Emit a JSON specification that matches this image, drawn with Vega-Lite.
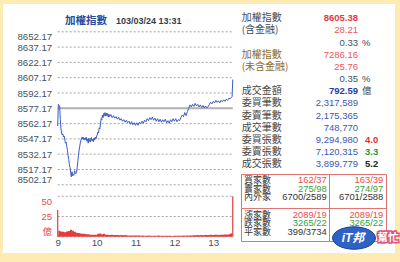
{
  "$schema": "https://vega.github.io/schema/vega-lite/v6.json",
  "width": 392,
  "height": 249,
  "autosize": "none",
  "padding": {"left": 3, "top": 4, "right": 5, "bottom": 9},
  "background": "#fdebb2",
  "config": {
    "view": {"fill": "#ffffff", "stroke": null},
    "axis": {"labelFont": "Liberation Sans", "labelFontSize": 9.6, "labelColor": "#44525e", "ticks": false, "tickSize": 0, "domain": false, "labelPadding": 3, "labelOverlap": false}
  },
  "layer": [
    {
      "layer": [
        {
          "data": {"values": [{"price": 8502.17}, {"price": 8517.17}, {"price": 8532.17}, {"price": 8547.17}, {"price": 8562.17}, {"price": 8592.17}, {"price": 8607.17}, {"price": 8622.17}, {"price": 8637.17}, {"price": 8652.17}]},
          "mark": {"type": "rule", "color": "#a4a4a4", "strokeWidth": 1, "strokeDash": [2, 2]},
          "encoding": {
            "y": {"field": "price", "type": "quantitative"},
            "x": {"datum": {"year": 1900, "month": 1, "date": 1, "hours": 9, "minutes": 0}, "type": "temporal"},
            "x2": {"datum": {"year": 1900, "month": 1, "date": 1, "hours": 13, "minutes": 30}}
          }
        },
        {
          "data": {"format": {"parse": {"time": "date:'%H:%M'"}}, "values": [{"time": "09:00"}, {"time": "10:00"}, {"time": "11:00"}, {"time": "12:00"}, {"time": "13:00"}]},
          "mark": {"type": "rule", "color": "#a4a4a4", "strokeWidth": 1, "strokeDash": [2, 2]},
          "encoding": {
            "x": {"field": "time", "type": "temporal"},
            "y": {"datum": 8652.17, "type": "quantitative"},
            "y2": {"datum": 8502.17}
          }
        },
        {
          "data": {"values": [{"price": 8577.17}]},
          "mark": {"type": "rule", "color": "#b0b0b0", "strokeWidth": 2},
          "encoding": {
            "y": {"field": "price", "type": "quantitative"},
            "x": {"datum": {"year": 1900, "month": 1, "date": 1, "hours": 9, "minutes": 0}, "type": "temporal"},
            "x2": {"datum": {"year": 1900, "month": 1, "date": 1, "hours": 13, "minutes": 30}}
          }
        },
        {
          "data": {
            "format": {"parse": {"time": "date:'%H:%M'"}},
            "values": [
              {"time":"09:00","price":8559.8},{"time":"09:01","price":8581.0},{"time":"09:02","price":8580.2},{"time":"09:03","price":8579.5},{"time":"09:04","price":8566},{"time":"09:05","price":8557},{"time":"09:06","price":8553},{"time":"09:07","price":8551},{"time":"09:08","price":8552},{"time":"09:09","price":8549},{"time":"09:10","price":8550},{"time":"09:11","price":8546},{"time":"09:12","price":8543},{"time":"09:13","price":8544},{"time":"09:14","price":8540},{"time":"09:15","price":8536},{"time":"09:16","price":8531},{"time":"09:17","price":8527},{"time":"09:18","price":8522},{"time":"09:19","price":8519},{"time":"09:20","price":8514},{"time":"09:21","price":8510},{"time":"09:22","price":8515},{"time":"09:23","price":8511},{"time":"09:24","price":8512},{"time":"09:25","price":8511.5},{"time":"09:26","price":8516},{"time":"09:27","price":8514},{"time":"09:28","price":8513},{"time":"09:29","price":8514},{"time":"09:30","price":8519},{"time":"09:31","price":8525},{"time":"09:32","price":8531},{"time":"09:33","price":8536},{"time":"09:34","price":8540},{"time":"09:35","price":8544},{"time":"09:36","price":8546},{"time":"09:37","price":8548.5},{"time":"09:38","price":8547},{"time":"09:39","price":8549},{"time":"09:40","price":8546.5},{"time":"09:41","price":8548},{"time":"09:42","price":8546},{"time":"09:44","price":8549},{"time":"09:45","price":8545},{"time":"09:46","price":8547},{"time":"09:47","price":8543},{"time":"09:48","price":8548},{"time":"09:49","price":8546},{"time":"09:50","price":8544},{"time":"09:51","price":8547},{"time":"09:52","price":8548.5},{"time":"09:53","price":8545},{"time":"09:54","price":8547},{"time":"09:55","price":8544.5},{"time":"09:56","price":8548},{"time":"09:57","price":8546},{"time":"09:58","price":8549},{"time":"09:59","price":8547},
              {"time":"10:00","price":8550},{"time":"10:01","price":8551},{"time":"10:02","price":8554},{"time":"10:03","price":8553},{"time":"10:04","price":8558},{"time":"10:05","price":8557},{"time":"10:06","price":8562},{"time":"10:07","price":8567},{"time":"10:08","price":8566},{"time":"10:09","price":8570.5},{"time":"10:10","price":8568},{"time":"10:11","price":8572},{"time":"10:12","price":8570},{"time":"10:13","price":8573},{"time":"10:14","price":8569.5},{"time":"10:15","price":8572.5},{"time":"10:16","price":8570},{"time":"10:17","price":8572},{"time":"10:18","price":8568.5},{"time":"10:19","price":8571.5},{"time":"10:20","price":8569},{"time":"10:22","price":8571},{"time":"10:24","price":8568},{"time":"10:26","price":8570},{"time":"10:28","price":8567.5},{"time":"10:30","price":8569},{"time":"10:32","price":8566.5},{"time":"10:34","price":8568.5},{"time":"10:36","price":8565.5},{"time":"10:38","price":8567},{"time":"10:40","price":8564.5},{"time":"10:42","price":8566},{"time":"10:44","price":8563.5},{"time":"10:46","price":8565.5},{"time":"10:48","price":8563},{"time":"10:50","price":8564.5},{"time":"10:52","price":8561.5},{"time":"10:54","price":8564},{"time":"10:56","price":8561},{"time":"10:58","price":8563},
              {"time":"11:00","price":8560.5},{"time":"11:02","price":8563},{"time":"11:04","price":8560.5},{"time":"11:06","price":8563.5},{"time":"11:08","price":8562},{"time":"11:10","price":8564.5},{"time":"11:12","price":8562.5},{"time":"11:14","price":8565.5},{"time":"11:16","price":8564},{"time":"11:18","price":8567},{"time":"11:20","price":8565},{"time":"11:22","price":8568},{"time":"11:24","price":8566},{"time":"11:26","price":8568.5},{"time":"11:28","price":8565.5},{"time":"11:30","price":8567.5},{"time":"11:32","price":8564.5},{"time":"11:34","price":8567},{"time":"11:36","price":8564},{"time":"11:38","price":8566.5},{"time":"11:40","price":8563.5},{"time":"11:42","price":8566},{"time":"11:44","price":8564},{"time":"11:46","price":8566.5},{"time":"11:48","price":8563},{"time":"11:50","price":8565},{"time":"11:52","price":8562.5},{"time":"11:54","price":8566},{"time":"11:56","price":8564},{"time":"11:58","price":8567},
              {"time":"12:00","price":8564.5},{"time":"12:02","price":8567},{"time":"12:04","price":8564},{"time":"12:06","price":8566},{"time":"12:08","price":8565},{"time":"12:10","price":8568},{"time":"12:12","price":8570.5},{"time":"12:14","price":8569},{"time":"12:16","price":8573},{"time":"12:18","price":8570},{"time":"12:20","price":8574},{"time":"12:22","price":8577},{"time":"12:24","price":8580.5},{"time":"12:26","price":8578.5},{"time":"12:28","price":8581},{"time":"12:30","price":8579},{"time":"12:32","price":8582},{"time":"12:34","price":8579.5},{"time":"12:36","price":8581},{"time":"12:38","price":8578.5},{"time":"12:40","price":8580.5},{"time":"12:42","price":8578},{"time":"12:44","price":8580},{"time":"12:46","price":8577.5},{"time":"12:48","price":8579.5},{"time":"12:50","price":8577.5},{"time":"12:52","price":8579},{"time":"12:54","price":8581},{"time":"12:56","price":8583},{"time":"12:58","price":8581.5},
              {"time":"13:00","price":8584},{"time":"13:02","price":8582.5},{"time":"13:04","price":8585},{"time":"13:06","price":8583},{"time":"13:08","price":8584.5},{"time":"13:10","price":8582.5},{"time":"13:12","price":8585},{"time":"13:14","price":8583.5},{"time":"13:16","price":8585.5},{"time":"13:18","price":8584},{"time":"13:20","price":8586},{"time":"13:22","price":8585},{"time":"13:24","price":8587},{"time":"13:26","price":8586.5},{"time":"13:28","price":8588},{"time":"13:29","price":8588.5},{"time":"13:30","price":8605.38}
            ]
          },
          "mark": {"type": "line", "color": "#3a5cc2", "strokeWidth": 1},
          "encoding": {
            "x": {
              "field": "time", "type": "temporal",
              "scale": {"domain": [{"year": 1900, "month": 1, "date": 1, "hours": 9, "minutes": 0}, {"year": 1900, "month": 1, "date": 1, "hours": 13, "minutes": 30}], "range": [54.7, 229.75], "nice": false},
              "axis": {"orient": "top", "title": null, "labels": false, "grid": false, "tickCount": 12,
                "values": [{"year": 1900, "month": 1, "date": 1, "hours": 9}, {"year": 1900, "month": 1, "date": 1, "hours": 10}, {"year": 1900, "month": 1, "date": 1, "hours": 11}, {"year": 1900, "month": 1, "date": 1, "hours": 12}, {"year": 1900, "month": 1, "date": 1, "hours": 13}]}
            },
            "y": {
              "field": "price", "type": "quantitative",
              "scale": {"domain": [8502.17, 8652.17], "range": [180.8, 27.8], "nice": false, "zero": false},
              "axis": {"orient": "left", "title": null, "offset": -51.7, "grid": false, "format": ".2f", "labelFlush": true, "labelOverlap": false, "tickCount": 12,
                "values": [8502.17, 8517.17, 8532.17, 8547.17, 8562.17, 8577.17, 8592.17, 8607.17, 8622.17, 8637.17, 8652.17]}
            }
          }
        }
      ]
    },
    {
      "layer": [
        {
          "data": {"values": [{"vol": 0}, {"vol": 25}, {"vol": 50}]},
          "mark": {"type": "rule", "color": "#a4a4a4", "strokeWidth": 1, "strokeDash": [2, 2]},
          "encoding": {
            "y": {"field": "vol", "type": "quantitative"},
            "x": {"datum": {"year": 1900, "month": 1, "date": 1, "hours": 9, "minutes": 0}, "type": "temporal"},
            "x2": {"datum": {"year": 1900, "month": 1, "date": 1, "hours": 13, "minutes": 30}}
          }
        },
        {
          "data": {"format": {"parse": {"time": "date:'%H:%M'"}}, "values": [{"time": "09:00"}, {"time": "10:00"}, {"time": "11:00"}, {"time": "12:00"}, {"time": "13:00"}]},
          "mark": {"type": "rule", "color": "#a4a4a4", "strokeWidth": 1, "strokeDash": [2, 2]},
          "encoding": {
            "x": {"field": "time", "type": "temporal"},
            "y": {"datum": 50, "type": "quantitative"},
            "y2": {"datum": 0}
          }
        },
        {
          "data": {
            "format": {"parse": {"time": "date:'%H:%M'"}},
            "values": [
              {"time":"09:01","vol":7.5},{"time":"09:04","vol":6.5},{"time":"09:07","vol":6},{"time":"09:10","vol":5.5},{"time":"09:13","vol":6.5},{"time":"09:16","vol":7},{"time":"09:19","vol":8.5},{"time":"09:22","vol":7.5},{"time":"09:25","vol":6},{"time":"09:28","vol":5},{"time":"09:31","vol":4.5},{"time":"09:34","vol":4},{"time":"09:37","vol":3.5},{"time":"09:40","vol":3.5},{"time":"09:43","vol":3},{"time":"09:46","vol":3},{"time":"09:49","vol":2.5},{"time":"09:52","vol":2.5},{"time":"09:55","vol":2.5},{"time":"09:58","vol":2.5},
              {"time":"10:01","vol":3.5},{"time":"10:04","vol":4},{"time":"10:07","vol":3},{"time":"10:10","vol":3.5},{"time":"10:13","vol":2.5},{"time":"10:16","vol":2.5},{"time":"10:19","vol":2},{"time":"10:22","vol":2.5},{"time":"10:25","vol":2},{"time":"10:28","vol":2},{"time":"10:31","vol":2},{"time":"10:34","vol":1.8},{"time":"10:37","vol":2},{"time":"10:40","vol":1.8},{"time":"10:43","vol":2},{"time":"10:46","vol":1.6},{"time":"10:49","vol":1.5},{"time":"10:52","vol":1.5},{"time":"10:55","vol":1.6},{"time":"10:58","vol":1.5},
              {"time":"11:01","vol":1.5},{"time":"11:04","vol":1.4},{"time":"11:07","vol":1.3},{"time":"11:10","vol":1.5},{"time":"11:13","vol":1.3},{"time":"11:16","vol":1.2},{"time":"11:19","vol":1.4},{"time":"11:22","vol":1.3},{"time":"11:25","vol":1.2},{"time":"11:28","vol":1.3},{"time":"11:31","vol":1.2},{"time":"11:34","vol":1.4},{"time":"11:37","vol":1.2},{"time":"11:40","vol":1.1},{"time":"11:43","vol":1.2},{"time":"11:46","vol":1.3},{"time":"11:49","vol":1.1},{"time":"11:52","vol":1.2},{"time":"11:55","vol":1},{"time":"11:58","vol":1.2},
              {"time":"12:01","vol":1.1},{"time":"12:04","vol":1.2},{"time":"12:07","vol":1.3},{"time":"12:10","vol":1.2},{"time":"12:13","vol":1.4},{"time":"12:16","vol":1.3},{"time":"12:19","vol":1.5},{"time":"12:22","vol":1.4},{"time":"12:25","vol":1.6},{"time":"12:28","vol":1.7},{"time":"12:31","vol":1.8},{"time":"12:34","vol":2},{"time":"12:37","vol":1.8},{"time":"12:40","vol":2},{"time":"12:43","vol":1.9},{"time":"12:46","vol":2.1},{"time":"12:49","vol":2},{"time":"12:52","vol":2.2},{"time":"12:55","vol":2.3},{"time":"12:58","vol":2.2},
              {"time":"13:01","vol":2.3},{"time":"13:04","vol":2.4},{"time":"13:07","vol":2.2},{"time":"13:10","vol":2.5},{"time":"13:13","vol":2.4},{"time":"13:16","vol":2.6},{"time":"13:19","vol":2.8},{"time":"13:22","vol":2.7},{"time":"13:25","vol":3.5},{"time":"13:28","vol":4.5},{"time":"13:29","vol":4.5}
            ]
          },
          "mark": {"type": "area", "interpolate": "step-after", "color": "#e23c3c"},
          "encoding": {
            "x": {
              "field": "time", "type": "temporal",
              "scale": {"domain": [{"year": 1900, "month": 1, "date": 1, "hours": 9, "minutes": 0}, {"year": 1900, "month": 1, "date": 1, "hours": 13, "minutes": 30}], "range": [54.7, 229.75], "nice": false},
              "axis": {"orient": "top", "title": null, "grid": false, "offset": -238.3, "labelPadding": 0, "labelBaseline": "middle", "labelFlush": false, "labelOverlap": false, "format": "%-H", "labelFontSize": 9.8, "tickCount": 12,
                "values": [{"year": 1900, "month": 1, "date": 1, "hours": 9}, {"year": 1900, "month": 1, "date": 1, "hours": 10}, {"year": 1900, "month": 1, "date": 1, "hours": 11}, {"year": 1900, "month": 1, "date": 1, "hours": 12}, {"year": 1900, "month": 1, "date": 1, "hours": 13}]}
            },
            "y": {
              "field": "vol", "type": "quantitative",
              "scale": {"domain": [0, 50], "range": [232.7, 192.3], "nice": false},
              "axis": {"orient": "left", "title": null, "offset": -51.7, "grid": false, "labelFlush": true, "labelOverlap": false, "labelColor": "#e84c4c", "values": [0, 25, 50], "tickCount": 5,
                "labelExpr": "datum.value == 0 ? '億' : datum.label", "labelFont": "Liberation Sans, Noto Sans CJK TC"}
            }
          }
        },
        {
          "data": {
            "format": {"parse": {"time": "date:'%H:%M'"}},
            "values": [{"time": "09:00", "vol": 33}, {"time": "13:30", "vol": 50}]
          },
          "mark": {"type": "rule", "color": "#e23c3c", "strokeWidth": 1.2},
          "encoding": {
            "x": {"field": "time", "type": "temporal"},
            "y": {"field": "vol", "type": "quantitative"},
            "y2": {"datum": 0}
          }
        }
      ]
    },
    {
      "data": {"values": [{"part": "指數", "text": "加權指數"}, {"part": "時間", "text": "103/03/24 13:31"}]},
      "mark": {"type": "text", "align": "left", "baseline": "middle", "fontWeight": "bold", "font": "Liberation Sans, Noto Sans CJK TC"},
      "encoding": {
        "text": {"field": "text"},
        "x": {"field": "part", "type": "nominal", "scale": {"type": "point", "domain": ["指數", "時間"], "range": [62, 113], "padding": 0}, "axis": null},
        "y": {"field": "part", "type": "nominal", "scale": {"type": "point", "domain": ["指數", "時間"], "range": [17, 17], "padding": 0}, "axis": null},
        "color": {"field": "part", "type": "nominal", "scale": {"domain": ["指數", "時間"], "range": ["#2b4a9c", "#333d47"]}, "legend": null},
        "size": {"field": "part", "type": "nominal", "scale": {"domain": ["指數", "時間"], "range": [10.5, 9]}, "legend": null}
      }
    },
    {
      "layer": [
        {
          "data": {
            "values": [
              {"row": 0, "grp": "含金融", "label": "加權指數"},
              {"row": 1, "grp": "含金融", "label": "(含金融)"},
              {"row": 3, "grp": "未含金融", "label": "加權指數"},
              {"row": 4, "grp": "未含金融", "label": "(未含金融)"},
              {"row": 6, "grp": "交易", "label": "成交金額"},
              {"row": 7, "grp": "交易", "label": "委買筆數"},
              {"row": 8, "grp": "交易", "label": "委賣筆數"},
              {"row": 9, "grp": "交易", "label": "成交筆數"},
              {"row": 10, "grp": "交易", "label": "委買張數"},
              {"row": 11, "grp": "交易", "label": "委賣張數"},
              {"row": 12, "grp": "交易", "label": "成交張數"}
            ]
          },
          "mark": {"type": "text", "align": "left", "baseline": "middle", "font": "Noto Sans CJK TC", "fontSize": 10},
          "encoding": {
            "x": {"datum": "label", "type": "nominal", "scale": {"type": "point", "domain": ["label", "value"], "range": [238.7, 355], "padding": 0}, "axis": null},
            "y": {"field": "row", "type": "quantitative", "scale": {"domain": [0, 12], "range": [14.3, 160.1], "nice": false, "zero": false}, "axis": null},
            "text": {"field": "label"},
            "color": {"field": "grp", "type": "nominal", "scale": {"domain": ["含金融", "未含金融", "交易"], "range": ["#3f4a5a", "#8c6a28", "#474747"]}, "legend": null}
          }
        },
        {
          "data": {
            "values": [
              {"row": 0, "value": "8605.38", "kind": "idx"},
              {"row": 1, "value": "28.21", "kind": "chg"},
              {"row": 2, "value": "0.33", "unit": "%", "kind": "pct"},
              {"row": 3, "value": "7286.16", "kind": "chg"},
              {"row": 4, "value": "25.76", "kind": "chg"},
              {"row": 5, "value": "0.35", "unit": "%", "kind": "pct"},
              {"row": 6, "value": "792.59", "unit": "億", "kind": "amt"},
              {"row": 7, "value": "2,317,589", "kind": "cnt"},
              {"row": 8, "value": "2,175,365", "kind": "cnt"},
              {"row": 9, "value": "748,770", "kind": "cnt"},
              {"row": 10, "value": "9,294,980", "kind": "cnt", "ratio": "4.0", "side": "買"},
              {"row": 11, "value": "7,120,315", "kind": "cnt", "ratio": "3.3", "side": "賣"},
              {"row": 12, "value": "3,899,779", "kind": "cnt", "ratio": "5.2", "side": "成交"}
            ]
          },
          "encoding": {
            "y": {"field": "row", "type": "quantitative", "scale": {"domain": [0, 12], "range": [14.3, 160.1], "nice": false, "zero": false}, "axis": null}
          },
          "layer": [
            {
              "transform": [{"filter": "datum.kind != 'idx' && datum.kind != 'amt'"}],
              "mark": {"type": "text", "align": "right", "baseline": "middle", "font": "Liberation Sans", "fontSize": 9.5},
              "encoding": {
                "x": {"datum": "value", "type": "nominal"},
                "text": {"field": "value"},
                "color": {"field": "kind", "type": "nominal", "scale": {"domain": ["chg", "pct", "cnt"], "range": ["#e85a5a", "#3e5468", "#3a5ab4"]}, "legend": null}
              }
            },
            {
              "transform": [{"filter": "datum.kind == 'idx' || datum.kind == 'amt'"}],
              "mark": {"type": "text", "align": "right", "baseline": "middle", "font": "Liberation Sans", "fontSize": 9.5, "fontWeight": "bold"},
              "encoding": {
                "x": {"datum": "value", "type": "nominal"},
                "text": {"field": "value"},
                "color": {"field": "kind", "type": "nominal", "scale": {"domain": ["idx", "amt"], "range": ["#e8383d", "#1f3fa0"]}, "legend": null}
              }
            },
            {
              "transform": [{"filter": "datum.unit"}],
              "mark": {"type": "text", "align": "left", "baseline": "middle", "font": "Liberation Sans, Noto Sans CJK TC", "fontSize": 9.5, "dx": 4, "color": "#3e4a58"},
              "encoding": {
                "x": {"datum": "value", "type": "nominal"},
                "text": {"field": "unit"}
              }
            },
            {
              "transform": [{"filter": "datum.ratio"}],
              "mark": {"type": "text", "align": "left", "baseline": "middle", "font": "Liberation Sans", "fontSize": 9.5, "fontWeight": "bold", "dx": 7},
              "encoding": {
                "x": {"datum": "value", "type": "nominal"},
                "text": {"field": "ratio"},
                "color": {"field": "side", "type": "nominal", "scale": {"domain": ["買", "賣", "成交"], "range": ["#e23030", "#2a982a", "#222222"]}, "legend": null}
              }
            }
          ],
          "resolve": {"scale": {"color": "independent"}}
        },
        {
          "data": {"values": [{"box": "家數表"}]},
          "encoding": {
            "y": {"datum": -0.637, "type": "quantitative", "scale": {"domain": [0, 6], "range": [176, 227.8], "nice": false, "zero": false}, "axis": null}
          },
          "layer": [
            {
              "mark": {"type": "rect", "fill": null, "stroke": "#e37474", "strokeWidth": 1, "xOffset": -0.2, "x2Offset": 28.5},
              "encoding": {
                "x": {"datum": "label", "type": "nominal"},
                "x2": {"datum": "value"},
                "y2": {"datum": 7.124}
              }
            },
            {
              "mark": {"type": "rule", "stroke": "#e37474", "strokeWidth": 1, "xOffset": -0.2, "x2Offset": 28.5},
              "encoding": {
                "x": {"datum": "label", "type": "nominal"},
                "x2": {"datum": "value"},
                "y": {"datum": 3.302, "type": "quantitative"}
              }
            },
            {
              "mark": {"type": "rule", "stroke": "#e37474", "strokeWidth": 1, "xOffset": -28.5},
              "encoding": {
                "x": {"datum": "value", "type": "nominal"},
                "y2": {"datum": 7.124}
              }
            }
          ]
        },
        {
          "data": {
            "values": [
              {"row": 0, "label": "買家數", "c1": "162/37", "c2": "163/39", "side": "up"},
              {"row": 1, "label": "賣家數", "c1": "275/98", "c2": "274/97", "side": "down"},
              {"row": 2, "label": "內外家", "c1": "6700/2589", "c2": "6701/2588", "side": "flat"},
              {"row": 4, "label": "漲家數", "c1": "2089/19", "c2": "2089/19", "side": "up"},
              {"row": 5, "label": "跌家數", "c1": "3265/22", "c2": "3265/22", "side": "down"},
              {"row": 6, "label": "平家數", "c1": "399/3734", "side": "flat"}
            ]
          },
          "encoding": {
            "y": {"field": "row", "type": "quantitative", "scale": {"domain": [0, 6], "range": [176, 227.8], "nice": false, "zero": false}, "axis": null}
          },
          "layer": [
            {
              "mark": {"type": "text", "align": "left", "baseline": "middle", "font": "Noto Sans CJK TC", "fontSize": 9, "color": "#333333", "dx": 2.3},
              "encoding": {
                "x": {"datum": "label", "type": "nominal"},
                "text": {"field": "label"}
              }
            },
            {
              "mark": {"type": "text", "align": "right", "baseline": "middle", "font": "Liberation Sans", "fontSize": 9.4, "dx": -31.3},
              "encoding": {
                "x": {"datum": "value", "type": "nominal"},
                "text": {"field": "c1"},
                "color": {"field": "side", "type": "nominal", "scale": {"domain": ["up", "down", "flat"], "range": ["#e84e4e", "#3c9c3c", "#333333"]}, "legend": null}
              }
            },
            {
              "transform": [{"filter": "datum.c2"}],
              "mark": {"type": "text", "align": "right", "baseline": "middle", "font": "Liberation Sans", "fontSize": 9.4, "dx": 25.3},
              "encoding": {
                "x": {"datum": "value", "type": "nominal"},
                "text": {"field": "c2"},
                "color": {"field": "side", "type": "nominal", "scale": {"domain": ["up", "down", "flat"], "range": ["#e84e4e", "#3c9c3c", "#333333"]}, "legend": null}
              }
            }
          ]
        },
        {
          "data": {"values": [{"site": "iT邦幫忙"}]},
          "encoding": {
            "x": {"datum": "value", "type": "nominal"},
            "y": {"datum": 6.72, "type": "quantitative", "scale": {"domain": [0, 6], "range": [176, 227.8], "nice": false, "zero": false}, "axis": null}
          },
          "layer": [
            {
              "mark": {"type": "point", "shape": "M -1.3 0 A 1.3 0.68 0 1 0 1.3 0 A 1.3 0.68 0 1 0 -1.3 0 Z", "filled": true, "color": "#2f62c6", "opacity": 1, "size": 1090, "xOffset": -4, "stroke": "#1d3f8a", "strokeWidth": 1}
            },
            {
              "mark": {"type": "text", "text": "iT邦", "align": "center", "baseline": "middle", "font": "Liberation Sans, Noto Sans CJK TC", "fontWeight": "bold", "fontStyle": "italic", "fontSize": 12, "color": "#ffffff", "dx": -5}
            },
            {
              "mark": {"type": "text", "text": "幫忙", "align": "center", "baseline": "middle", "font": "Noto Sans CJK TC", "fontWeight": "bold", "fontSize": 10.5, "color": "#e0507a", "stroke": "#e0507a", "strokeWidth": 3, "dx": 30}
            },
            {
              "mark": {"type": "text", "text": "幫忙", "align": "center", "baseline": "middle", "font": "Noto Sans CJK TC", "fontWeight": "bold", "fontSize": 10.5, "color": "#ffffff", "dx": 30}
            }
          ]
        }
      ],
      "resolve": {"scale": {"y": "independent", "color": "independent"}}
    }
  ],
  "resolve": {
    "scale": {"x": "independent", "y": "independent", "color": "independent", "size": "independent"},
    "axis": {"x": "independent", "y": "independent"}
  }
}
